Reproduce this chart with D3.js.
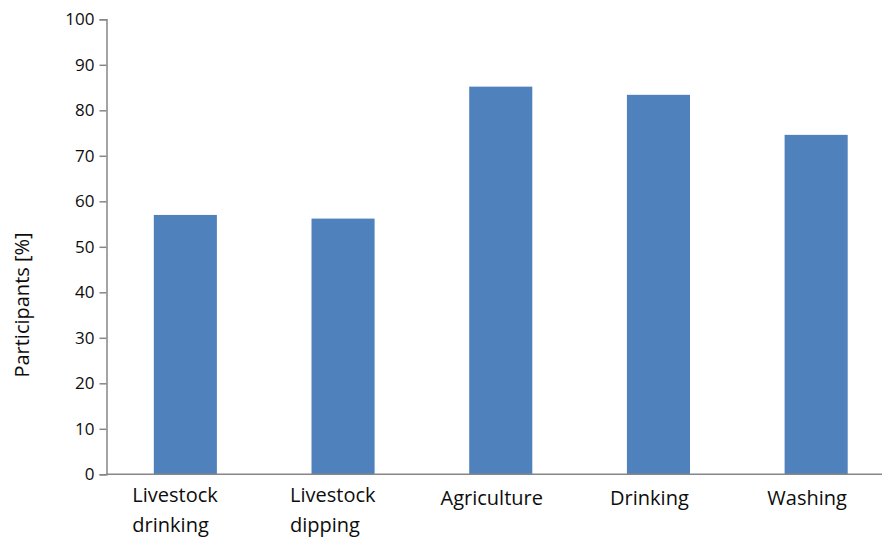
<!DOCTYPE html>
<html>
<head>
<meta charset="utf-8">
<script src="https://cdn.jsdelivr.net/npm/d3@7"></script>
<style>
  html, body { margin: 0; padding: 0; background: #ffffff; }
  svg { display: block; font-family: "Open Sans", "Liberation Sans", sans-serif; }
</style>
</head>
<body>
<svg id="chart" width="882" height="539"></svg>
<script>
// Share of participants reporting each water use
const categories = ["Livestock drinking", "Livestock dipping", "Agriculture", "Drinking", "Washing"];
const categoryLines = [["Livestock", "drinking"], ["Livestock", "dipping"], ["Agriculture"], ["Drinking"], ["Washing"]];
const values = [57, 56.2, 85.2, 83.4, 74.6];
const yTicks = [0, 10, 20, 30, 40, 50, 60, 70, 80, 90, 100];

const svg = d3.select("#chart");
const axisColor = "#868686";
const textColor = "#0d0d0d";

const x = d3.scaleBand()
  .domain(categories)
  .range([106.5, 895])
  .paddingInner(0.6)
  .paddingOuter(0.3);

const y = d3.scaleLinear()
  .domain([0, 100])
  .range([474.3, 19.3]);

// Bars
svg.append("g")
  .selectAll("rect")
  .data(categories)
  .join("rect")
  .attr("x", d => x(d))
  .attr("width", x.bandwidth())
  .attr("y", (d, i) => y(values[i]))
  .attr("height", (d, i) => y(0) - y(values[i]))
  .attr("fill", "#4f81bd");

// Y axis
const yAxis = svg.append("g")
  .attr("transform", "translate(106.5,0)")
  .call(d3.axisLeft(y).tickValues(yTicks).tickSize(7).tickPadding(5));
yAxis.select(".domain").attr("stroke", axisColor).attr("stroke-width", 1.5);
yAxis.selectAll(".tick line").attr("stroke", axisColor).attr("stroke-width", 1.5);
yAxis.selectAll(".tick text")
  .attr("fill", textColor)
  .style("font-size", "17px")
  .style("font-family", "\"Open Sans\", sans-serif");

// X axis baseline across the plot
svg.append("line")
  .attr("x1", 106.5).attr("x2", 882)
  .attr("y1", y(0)).attr("y2", y(0))
  .attr("stroke", axisColor)
  .attr("stroke-width", 1.5);

// Category labels (two-line ones are left-aligned as a block)
const labels = svg.append("g")
  .style("font-size", "20px")
  .attr("fill", textColor);
categories.forEach((c, i) => {
  const cx = x(c) + x.bandwidth() / 2;
  const lines = categoryLines[i];
  const t = labels.append("text");
  if (lines.length > 1) {
    t.attr("text-anchor", "start");
    lines.forEach((ln, j) => {
      t.append("tspan")
        .attr("x", cx - 53)
        .attr("y", 502 + j * 30)
        .text(ln);
    });
  } else {
    t.attr("text-anchor", "middle")
      .attr("x", cx - 9)
      .attr("y", 504.5)
      .text(lines[0]);
  }
});

// Y axis title
svg.append("text")
  .attr("transform", "translate(28.5,305) rotate(-90)")
  .attr("text-anchor", "middle")
  .style("font-size", "20px")
  .attr("fill", textColor)
  .text("Participants [%]");
</script>
</body>
</html>
